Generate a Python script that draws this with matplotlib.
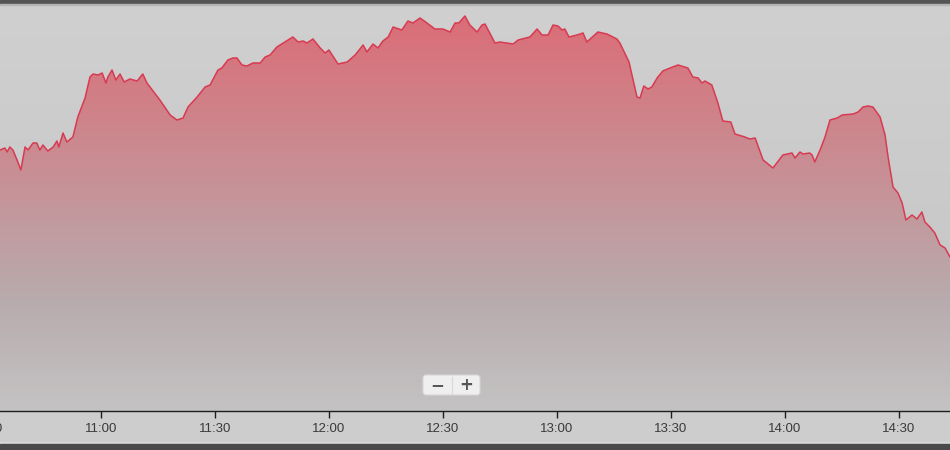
import numpy as np
import matplotlib.pyplot as plt
from matplotlib.patches import FancyBboxPatch
from matplotlib.ticker import FixedLocator, FuncFormatter

# session starts 10:30, times are minutes after that
start_hour, start_min = 10, 30
minutes = [3.4, 4.7, 5.3, 6.0, 6.8, 7.9, 8.9, 10.0, 10.8, 12.1, 13.1, 13.9, 14.7, 16.0,
           17.4, 18.4, 18.9, 20.0, 21.0, 22.6, 23.9, 25.8, 27.1, 27.9, 29.2, 30.3, 31.3,
           31.8, 32.9, 33.9, 35.0, 36.1, 37.6, 39.5, 41.0, 42.1, 45.5, 48.2, 50.0, 51.6,
           52.9, 55.3, 57.4, 58.7, 60.8, 61.8, 63.4, 64.7, 65.8, 67.1, 68.4, 70.0, 71.9,
           73.2, 74.5, 76.3, 78.4, 80.5, 81.9, 83.2, 84.2, 85.8, 87.7, 89.0, 90.0, 92.4,
           94.8, 96.9, 99.0, 100.0, 101.6, 102.9, 104.2, 105.6, 106.9, 109.2, 110.8, 112.1,
           114.0, 115.8, 117.9, 120.0, 121.9, 123.2, 124.2, 125.8, 127.1, 129.0, 130.3,
           131.1, 133.7, 135.0, 138.5, 139.8, 142.9, 144.8, 146.1, 147.7, 149.0, 150.3,
           151.4, 152.1, 153.2, 155.3, 156.9, 157.9, 160.8, 163.2, 165.8, 166.6, 169.0,
           171.1, 171.9, 172.9, 174.0, 175.0, 176.4, 177.9, 179.8, 181.9, 184.5, 185.8,
           187.2, 188.2, 189.0, 190.8, 192.4, 193.7, 195.8, 196.9, 199.5, 200.8, 202.2,
           204.3, 206.9, 209.5, 211.9, 212.7, 214.0, 214.8, 216.6, 217.2, 217.9, 219.3,
           220.6, 221.9, 223.8, 225.1, 228.0, 229.3, 230.6, 231.9, 233.2, 235.1, 236.4,
           237.2, 238.5, 239.8, 240.9, 241.9, 243.5, 244.8, 246.1, 246.9, 248.2, 249.5,
           250.9, 252.2, 253.5]
values = [261, 263, 259, 264, 261, 251, 241, 264, 261, 268, 268, 261, 266, 260,
          264, 270, 264, 278, 269, 274, 294, 313, 334, 337, 336, 338, 328,
          334, 341, 331, 337, 329, 332, 330, 337, 328, 311, 296, 291, 293,
          304, 314, 324, 326, 341, 343, 351, 353, 353, 346, 345, 348, 348,
          354, 356, 364, 369, 374, 369, 370, 368, 372, 363, 358, 361, 347,
          349, 356, 366, 359, 367, 363, 370, 374, 384, 381, 390, 388,
          393, 388, 382, 382, 379, 388, 388, 395, 386, 379, 386,
          387, 368, 369, 367, 371, 374, 382, 376, 376, 386, 385,
          381, 382, 374, 376, 378, 369, 379, 377, 372, 368, 349,
          314, 313, 325, 322, 324, 333, 340, 343, 346, 343,
          334, 333, 328, 330, 326, 308, 290, 289, 277, 274, 272,
          273, 251, 243, 256, 258, 253, 259, 257, 258, 256, 249,
          261, 274, 291, 293, 296, 297, 299, 304, 305, 304, 294,
          276, 254, 224, 218, 208, 191, 196, 192, 199, 189, 184,
          178, 166, 163, 154]
tick_minutes = [0, 30, 60, 90, 120, 150, 180, 210, 240]

W, H = 950, 450
plt.rcParams['font.family'] = ['Liberation Sans', 'DejaVu Sans']

fig = plt.figure(figsize=(W / 100, H / 100), dpi=100)

# background panel with soft vertical gradient and dark frame bars
bg = fig.add_axes([0, 0, 1, 1], zorder=0)
rows = np.arange(H)
shade = np.where(rows <= 411, 208 - 12 * rows / 411, 205) / 255
img = np.repeat(shade[:, None, None], 3, axis=2)
bg.imshow(img, extent=[0, W, H, 0], aspect='auto')
bg.axhspan(0, 3.5, color='#555555')
bg.axhspan(3.5, 5, color='#b5b5b5')
bg.axhspan(441.5, 443.5, color='#d9d9d9')
bg.axhspan(443.5, H, color='#4a4a4a')
bg.set_xlim(0, W)
bg.set_ylim(H, 0)
bg.axis('off')

# main chart, stretched past the left edge so the 10:30 label is cut off
ax = fig.add_axes([-40 / W, 39 / H, 990 / W, 407 / H], zorder=1)
ax.patch.set_alpha(0)

poly = ax.fill_between(minutes, values, 0, color='none', lw=0)
vmax = max(values)
# colour stops of the area gradient (fraction from the top of the area)
stop_pos = [0.0, 0.72, 1.0]
stop_rgb = np.array([[219, 109, 119], [184, 171, 173], [196, 195, 195]]) / 255
g = np.linspace(0, 1, 256)
grad = np.stack([np.interp(g, stop_pos, stop_rgb[:, k]) for k in range(3)], axis=1)[:, None, :]
im = ax.imshow(grad, extent=[minutes[0], minutes[-1], 0, vmax],
               aspect='auto', origin='upper', zorder=1)
im.set_clip_path(poly.get_paths()[0], transform=ax.transData)
ax.plot(minutes, values, color='#d83a52', lw=1.1, zorder=2)

ax.set_xlim(-7.12, 253.5)
ax.set_ylim(0, 407)
for s in ['top', 'left', 'right']:
    ax.spines[s].set_visible(False)
ax.spines['bottom'].set_color('#1e1e1e')
ax.spines['bottom'].set_linewidth(1.0)
ax.set_yticks([])
ax.xaxis.set_major_locator(FixedLocator(tick_minutes))


def fmt(m, pos):
    total = start_hour * 60 + start_min + int(m)
    return f"{total // 60}:{total % 60:02d}"


ax.xaxis.set_major_formatter(FuncFormatter(fmt))
ax.tick_params(axis='x', direction='out', length=5, width=1, color='#1e1e1e',
               labelsize=9.5, labelcolor='#3a3a3a', pad=4)

# zoom buttons overlay
ov = fig.add_axes([0, 0, 1, 1], zorder=2)
ov.set_xlim(0, W)
ov.set_ylim(H, 0)
ov.axis('off')
ov.add_patch(FancyBboxPatch((423, 375), 57, 20, boxstyle='round,pad=0,rounding_size=3',
                            fc='#efefef', ec='#d6d6d6', lw=0.8))
ov.plot([452, 452], [377, 393], color='#d8d8d8', lw=0.8)
ov.text(437.5, 385, '\u2212', ha='center', va='center', fontsize=12,
        fontweight='bold', color='#555555', family='DejaVu Sans')
ov.text(466, 385, '+', ha='center', va='center', fontsize=12,
        fontweight='bold', color='#555555', family='DejaVu Sans')

fig.savefig('out.png', dpi=100)
